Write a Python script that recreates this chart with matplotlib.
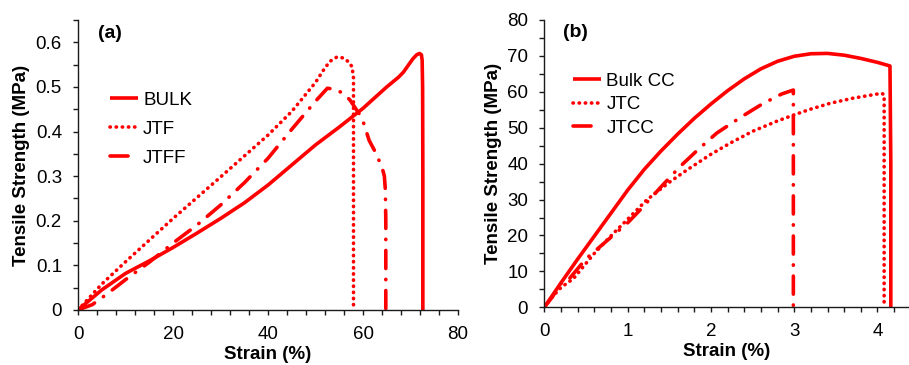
import matplotlib
matplotlib.use("Agg")
import matplotlib.pyplot as plt
from matplotlib.ticker import MultipleLocator, FuncFormatter

plt.rcParams["font.family"] = ["Liberation Sans", "DejaVu Sans"]

RED = "#FF0000"
FS = 13.5

# ---- (a) : strain (%) / tensile strength (MPa) ----
bulk_x = [0, 2, 5, 10, 15, 20, 25, 30, 35, 40, 45, 50, 55, 60, 65, 67.5, 68.5, 69.5, 70.5,
          71.3, 71.9, 72.3, 72.45, 72.55, 72.6, 72.6]
bulk_y = [0, 0.018, 0.045, 0.082, 0.11, 0.14, 0.172, 0.205, 0.24, 0.28, 0.325, 0.37, 0.41,
          0.452, 0.5, 0.522, 0.533, 0.548, 0.563, 0.572, 0.575, 0.572, 0.56, 0.5, 0.3, 0.0]

jtf_x = [0, 5, 10, 20, 30, 40, 45, 50, 51.5, 53, 54.5, 55.8, 57, 57.7, 58, 58]
jtf_y = [0, 0.058, 0.108, 0.205, 0.298, 0.392, 0.445, 0.51, 0.535, 0.557, 0.567, 0.565,
         0.556, 0.545, 0.52, 0.0]

jtff_x = [0, 3, 6, 10, 15, 20, 25, 30, 35, 40, 45, 50, 52.5, 54, 56, 57.3, 59.8, 61.3,
          62.6, 64.0, 64.5, 64.7, 64.8, 64.8]
jtff_y = [0, 0.012, 0.035, 0.068, 0.107, 0.15, 0.19, 0.235, 0.285, 0.34, 0.405, 0.468,
          0.497, 0.495, 0.485, 0.47, 0.43, 0.38, 0.354, 0.32, 0.3, 0.27, 0.2, 0.0]

# ---- (b) ----
bcc_x = [0, 0.2, 0.4, 0.6, 0.8, 1.0, 1.2, 1.4, 1.6, 1.8, 2.0, 2.2, 2.4, 2.6, 2.8, 3.0,
         3.2, 3.4, 3.6, 3.8, 4.0, 4.15, 4.16, 4.16]
bcc_y = [0, 6.8, 13.4, 19.8, 26.2, 32.6, 38.4, 43.5, 48.2, 52.6, 56.6, 60.3, 63.6, 66.4,
         68.5, 69.9, 70.6, 70.7, 70.2, 69.3, 68.2, 67.2, 40, 0]

jtc_x = [0, 0.1, 0.2, 0.35, 0.6, 0.83, 1.0, 1.23, 1.5, 1.71, 2.0, 2.23, 2.5, 2.8, 3.0,
         3.2, 3.43, 3.7, 4.0, 4.05, 4.08, 4.08]
jtc_y = [0, 3.0, 5.5, 8.0, 15.0, 20.6, 24.5, 29.9, 34.8, 38.2, 42.6, 45.7, 49.0, 51.9,
         53.6, 55.2, 56.8, 58.2, 59.4, 59.6, 59.2, 0]

jtcc_x = [0, 0.1, 0.19, 0.27, 0.5, 0.83, 1.0, 1.15, 1.4, 1.63, 1.85, 2.07, 2.35, 2.63,
          2.85, 2.99, 2.99]
jtcc_y = [0, 3.0, 6.5, 7.1, 13.5, 20.1, 23.5, 27.1, 33.5, 39.2, 44.0, 48.5, 52.8, 56.8,
          59.4, 60.5, 0]


def style_axes(ax, xmaj, xmin, ymaj, ymin, yfmt):
    for s in ("top", "right"):
        ax.spines[s].set_visible(False)
    for s in ("left", "bottom"):
        ax.spines[s].set_linewidth(1.0)
        ax.spines[s].set_color("#1a1a1a")
    ax.xaxis.set_major_locator(MultipleLocator(xmaj))
    ax.xaxis.set_minor_locator(MultipleLocator(xmin))
    ax.yaxis.set_major_locator(MultipleLocator(ymaj))
    ax.yaxis.set_minor_locator(MultipleLocator(ymin))
    ax.yaxis.set_major_formatter(FuncFormatter(yfmt))
    ax.tick_params(which="both", direction="out", length=3.6, width=1.0,
                   color="#1a1a1a", labelsize=FS, pad=8)
    ax.set_xlabel("Strain (%)", fontsize=FS, fontweight="bold", labelpad=2)
    ax.set_ylabel("Tensile Strength (MPa)", fontsize=FS, fontweight="bold", labelpad=4)


def draw(ax, x, y, kind, label):
    if kind == "solid":
        ax.plot(x, y, color=RED, lw=2.6, label=label, solid_capstyle="butt",
                solid_joinstyle="round")
    elif kind == "dot":
        ax.plot(x, y, color=RED, lw=2.6, label=label, dashes=(0.1, 1.6),
                dash_capstyle="round")
    else:
        ax.plot(x, y, color=RED, lw=2.6, label=label, dashes=(5.0, 3.0, 0.1, 3.0),
                dash_capstyle="round")


fig = plt.figure(figsize=(9.09, 3.65), dpi=100)

# panel (a)
ax1 = fig.add_axes([78 / 909, 55 / 365, 380 / 909, 290 / 365])
draw(ax1, bulk_x, bulk_y, "solid", "BULK")
draw(ax1, jtf_x, jtf_y, "dot", "JTF")
draw(ax1, jtff_x, jtff_y, "dashdot", "JTFF")
ax1.set_xlim(0, 80)
ax1.set_ylim(0, 0.65)
style_axes(ax1, 20, 4, 0.1, 0.05, lambda v, p: "0" if abs(v) < 1e-9 else f"{v:.1f}")
ax1.text(0.053, 0.955, "(a)", transform=ax1.transAxes, fontsize=14,
         fontweight="bold", va="center", ha="left")
ax1.legend(loc="upper left", bbox_to_anchor=(0.084, 0.752), frameon=False,
           fontsize=FS, handlelength=1.5, handletextpad=0.27, labelspacing=0.62,
           borderpad=0, borderaxespad=0)

# panel (b)
ax2 = fig.add_axes([544.3 / 909, 57.7 / 365, 364 / 909, 287.3 / 365])
draw(ax2, bcc_x, bcc_y, "solid", "Bulk CC")
draw(ax2, jtc_x, jtc_y, "dot", "JTC")
draw(ax2, jtcc_x, jtcc_y, "dashdot", "JTCC")
ax2.set_xlim(0, 4.37)
ax2.set_ylim(0, 80)
style_axes(ax2, 1, 0.2, 10, 5, lambda v, p: f"{v:.0f}")
ax2.text(0.051, 0.955, "(b)", transform=ax2.transAxes, fontsize=14,
         fontweight="bold", va="center", ha="left")
ax2.legend(loc="upper left", bbox_to_anchor=(0.079, 0.816), frameon=False,
           fontsize=FS, handlelength=1.5, handletextpad=0.27, labelspacing=0.34,
           borderpad=0, borderaxespad=0)

fig.savefig("out.png", dpi=100, facecolor="white")
